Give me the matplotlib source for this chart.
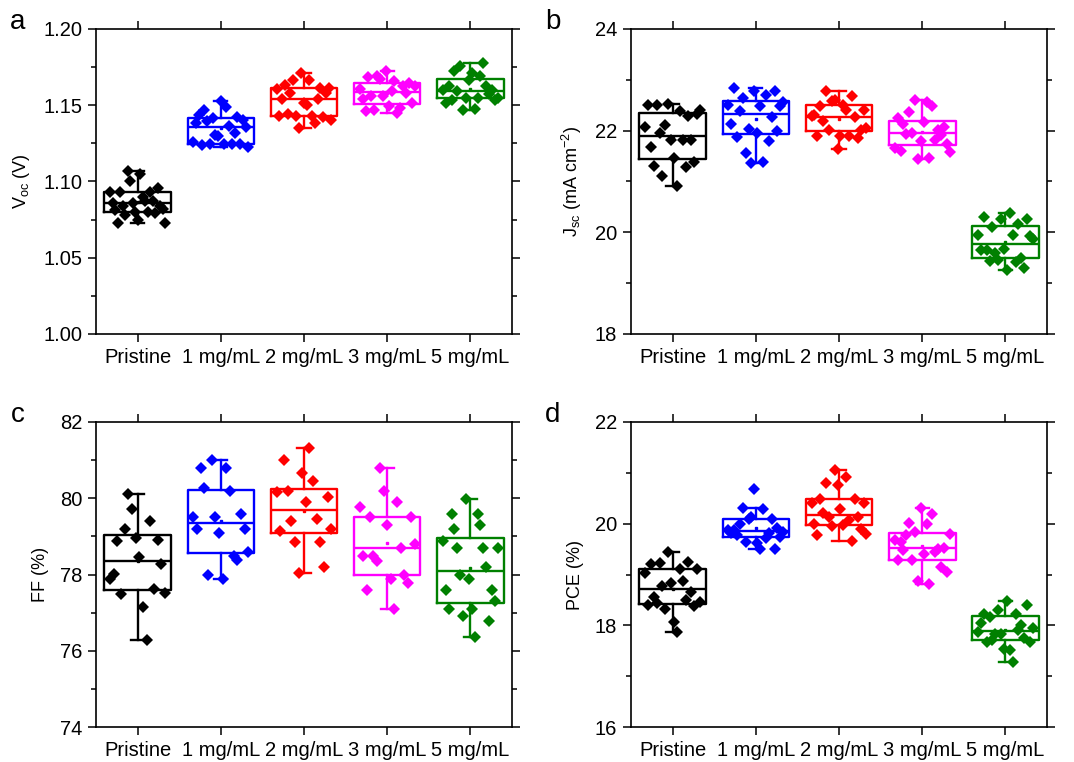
import numpy as np
import matplotlib.pyplot as plt
from matplotlib.ticker import MultipleLocator, FormatStrFormatter

plt.rcParams['font.family'] = ['Liberation Sans', 'DejaVu Sans']
plt.rcParams['mathtext.default'] = 'regular'

groups = ['Pristine', '1 mg/mL', '2 mg/mL', '3 mg/mL', '5 mg/mL']
colors = ['black', 'blue', 'red', 'magenta', 'green']

# values of each device, listed roughly from left to right as they sit in the box
voc = [
    [1.093, 1.086, 1.081, 1.073, 1.093, 1.084, 1.078, 1.107, 1.100, 1.086, 1.080, 1.075,
     1.105, 1.090, 1.087, 1.080, 1.093, 1.087, 1.079, 1.096, 1.084, 1.082, 1.073],
    [1.1257, 1.1384, 1.1438, 1.1242, 1.1467, 1.1395, 1.1248, 1.1416, 1.1307, 1.1296, 1.1526,
     1.1248, 1.1489, 1.1362, 1.1248, 1.1318, 1.1423, 1.1248, 1.1405, 1.1355, 1.1226],
    [1.1607, 1.1427, 1.1543, 1.1635, 1.1443, 1.1580, 1.1668, 1.1427, 1.1351, 1.1711, 1.1515,
     1.1504, 1.1663, 1.1427, 1.1384, 1.1541, 1.1613, 1.1421, 1.1580, 1.1613, 1.1405],
    [1.1606, 1.1541, 1.1465, 1.1685, 1.1558, 1.1471, 1.1690, 1.1672, 1.1558, 1.1722, 1.1493,
     1.1591, 1.1657, 1.1449, 1.1482, 1.1624, 1.1580, 1.1646, 1.1515, 1.1628],
    [1.1602, 1.1515, 1.1624, 1.1537, 1.1722, 1.1591, 1.1755, 1.1471, 1.1548, 1.1668, 1.1711,
     1.1475, 1.1548, 1.1690, 1.1777, 1.1624, 1.1576, 1.1600, 1.1537, 1.1548],
]

jsc = [
    [22.07, 22.50, 21.67, 21.31, 22.50, 21.95, 21.10, 22.12, 22.525, 21.82, 21.46, 20.92,
     22.38, 21.82, 21.28, 22.28, 21.82, 21.38, 22.33, 22.41],
    [22.51, 22.13, 22.84, 21.87, 22.39, 22.64, 21.56, 22.03, 21.36, 22.77, 21.95, 22.49,
     21.38, 22.71, 21.79, 22.26, 22.77, 21.99, 22.49, 22.56],
    [22.28, 22.30, 21.89, 22.49, 22.18, 22.77, 22.02, 22.58, 22.61, 21.64, 21.89, 22.51,
     22.41, 21.89, 22.69, 22.26, 21.86, 22.02, 22.40, 22.05],
    [21.66, 22.25, 21.59, 22.14, 21.94, 22.36, 21.95, 22.60, 21.45, 21.79, 22.16, 22.56,
     21.46, 22.49, 21.82, 22.01, 21.92, 22.08, 21.74, 21.57],
    [19.95, 19.66, 20.31, 19.66, 19.43, 20.10, 19.59, 19.45, 20.26, 19.67, 19.25, 20.38,
     19.95, 19.41, 20.17, 19.50, 19.30, 20.26, 19.93, 19.87],
]

ff = [
    [77.88, 78.01, 78.88, 77.49, 79.19, 80.12, 79.71, 78.97, 78.45, 77.14, 76.27, 79.40,
     77.62, 78.90, 78.27, 77.51],
    [79.50, 79.19, 80.80, 80.28, 77.99, 81.00, 79.50, 79.09, 77.88, 80.80, 80.19, 78.49,
     78.38, 79.59, 79.19, 78.58],
    [80.17, 79.15, 81.01, 80.18, 79.40, 78.84, 78.04, 80.66, 79.90, 81.32, 80.46, 79.46,
     78.86, 78.20, 80.02, 79.19],
    [79.78, 78.49, 77.59, 79.50, 78.49, 78.36, 80.80, 80.19, 79.29, 77.88, 77.09, 79.90,
     78.69, 77.99, 77.79, 79.50, 78.80],
    [78.88, 77.59, 77.10, 79.59, 79.19, 78.69, 77.99, 76.90, 79.99, 77.88, 77.10, 76.37,
     79.59, 79.29, 78.69, 78.20, 76.79, 77.59, 77.30, 78.69],
]

pce = [
    [19.02, 18.40, 19.21, 18.55, 18.43, 19.23, 18.77, 18.32, 19.45, 18.83, 18.07, 17.86,
     19.10, 18.88, 18.49, 19.25, 18.66, 18.38, 19.10, 18.45],
    [19.87, 19.81, 19.87, 19.78, 20.00, 20.30, 19.64, 20.10, 20.13, 20.68, 19.61, 19.51,
     20.28, 19.71, 19.81, 20.10, 19.51, 19.91, 19.74, 19.84],
    [20.41, 20.00, 19.77, 20.49, 20.21, 20.80, 20.13, 19.95, 21.06, 20.76, 20.28, 19.97,
     20.91, 20.07, 19.66, 20.49, 20.13, 19.89, 20.41, 19.79],
    [19.67, 19.29, 19.64, 19.49, 19.77, 20.01, 19.28, 19.84, 18.87, 20.30, 19.41, 19.99,
     18.81, 20.20, 19.44, 19.51, 19.15, 19.53, 19.04, 19.80],
    [17.86, 18.04, 18.22, 17.68, 18.17, 17.71, 17.82, 18.30, 17.83, 17.53, 18.47, 17.52,
     17.27, 18.22, 17.91, 18.01, 17.75, 18.41, 17.68, 17.94],
]

panels = [
    (voc, 'V$_{oc}$ (V)', (1.00, 1.20), 0.05, '%.2f', 'a', [0.0894, 0.5617, 0.3873, 0.4003]),
    (jsc, 'J$_{sc}$ (mA cm$^{-2}$)', (18, 24), 2, '%d', 'b', [0.5875, 0.5617, 0.3874, 0.4003]),
    (ff, 'FF (%)', (74, 82), 2, '%d', 'c', [0.0894, 0.0459, 0.3873, 0.4003]),
    (pce, 'PCE (%)', (16, 22), 2, '%d', 'd', [0.5875, 0.0459, 0.3874, 0.4003]),
]

fig = plt.figure(figsize=(10.74, 7.62), dpi=100)
pos = np.arange(1, len(groups) + 1)

for data, ylab, ylim, step, fmt, letter, rect in panels:
    ax = fig.add_axes(rect)
    for i, vals in enumerate(data):
        c = colors[i]
        ax.boxplot([vals], positions=[pos[i]], widths=0.8, whis=1.5,
                   showfliers=False, showmeans=True, capwidths=0.16,
                   boxprops=dict(color=c, lw=1.7),
                   medianprops=dict(color=c, lw=1.7),
                   whiskerprops=dict(color=c, lw=1.7),
                   capprops=dict(color=c, lw=1.7),
                   meanprops=dict(marker='s', markersize=1.5, markerfacecolor=c,
                                  markeredgecolor=c))
        xs = pos[i] + np.linspace(-0.33, 0.33, len(vals))
        ax.plot(xs, vals, 'D', color=c, markersize=6.5, markeredgewidth=0, zorder=5)

    ax.set_xlim(0.5, 5.5)
    ax.set_ylim(*ylim)
    ax.set_xticks(pos)
    ax.set_xticklabels(groups)
    ax.yaxis.set_major_locator(MultipleLocator(step))
    ax.yaxis.set_minor_locator(MultipleLocator(step / 2))
    ax.yaxis.set_major_formatter(FormatStrFormatter(fmt))
    ax.tick_params(which='both', direction='out', top=True, right=True,
                   width=1.1, labelsize=14.5, pad=4)
    ax.tick_params(which='major', length=6)
    ax.tick_params(which='minor', length=3.5)
    ax.tick_params(axis='x', which='minor', top=False, bottom=False)
    for s in ax.spines.values():
        s.set_linewidth(1.2)
    ax.set_ylabel(ylab, fontsize=13, labelpad=8)
    fig.text(rect[0] - 0.0726, rect[1] + rect[3] + 0.009, letter, fontsize=20,
             ha='center', va='center')

fig.savefig('out.png', dpi=100)
